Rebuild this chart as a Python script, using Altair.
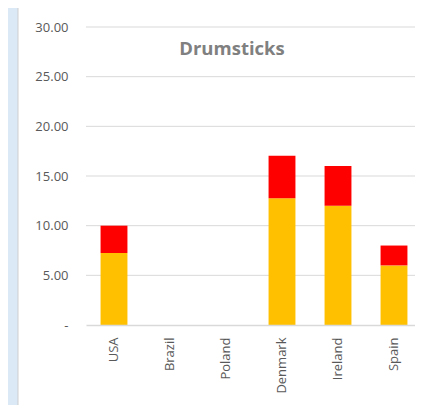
import altair as alt
import pandas as pd

countries = ["USA", "Brazil", "Poland", "Denmark", "Ireland", "Spain"]
series_names = ["Base", "Extra"]
base_values = [7.25, 0, 0, 12.75, 12.0, 6.0]
extra_values = [2.75, 0, 0, 4.3, 4.0, 2.0]
y_ticks = [0, 5, 10, 15, 20, 25, 30]
title_text = "Drumsticks"

rows = []
for i, c in enumerate(countries):
    rows.append({"country": c, "series": series_names[0], "value": base_values[i], "order": 0})
    rows.append({"country": c, "series": series_names[1], "value": extra_values[i], "order": 1})
df = pd.DataFrame(rows)

FONT = "Open Sans"
LABEL_COLOR = "#595959"
GRID_COLOR = "#d9d9d9"

y_axis = alt.Axis(title=None, values=y_ticks, grid=False, ticks=False, domain=False,
                  labelFont=FONT, labelFontSize=13, labelColor=LABEL_COLOR,
                  labelPadding=18, zindex=1,
                  labelExpr="datum.value == 0 ? '-\u00a0\u00a0\u00a0\u00a0\u00a0' : format(datum.value, '.2f')")
y_scale = alt.Scale(domain=[0, 30])

panel = alt.Chart(pd.DataFrame({"a": [0]})).mark_rect(
    fill="white", stroke="#cfcfcf", strokeWidth=1
).encode(
    x=alt.value(-68), x2=alt.value(420), y=alt.value(-20), y2=alt.value(400)
)

grid = alt.Chart(pd.DataFrame({"value": y_ticks[1:]})).mark_rule(
    color=GRID_COLOR, strokeWidth=1
).encode(
    y=alt.Y("value:Q", scale=y_scale, axis=y_axis),
    x=alt.value(0), x2=alt.value(336)
)

bars = alt.Chart(df).mark_bar().encode(
    x=alt.X("country:N", sort=countries,
            scale=alt.Scale(paddingInner=0.52, paddingOuter=0.26, range=[0, 336]),
            axis=alt.Axis(title=None, labelAngle=-90, labelFont=FONT, labelFontSize=13,
                          labelColor=LABEL_COLOR, ticks=False, labelPadding=12,
                          domainColor=GRID_COLOR, domainWidth=1.5, grid=False, zindex=1)),
    y=alt.Y("value:Q", stack="zero", scale=y_scale, axis=y_axis),
    color=alt.Color("series:N", sort=series_names,
                    scale=alt.Scale(domain=series_names, range=["#ffc000", "#ff0000"]),
                    legend=None),
    order=alt.Order("order:Q", sort="ascending"),
)

title = alt.Chart(pd.DataFrame({"t": [title_text]})).mark_text(
    font=FONT, fontSize=18.5, fontWeight="bold", color="#808080", baseline="middle", align="center"
).encode(text="t:N", x=alt.value(146), y=alt.value(22))

chart = alt.layer(panel, grid, bars, title).properties(
    width=329, height=298,
    background="#dbe8f5",
    padding={"left": 78, "top": 19, "right": 0, "bottom": 80},
    autosize=alt.AutoSizeParams(type="none"),
).configure_view(stroke=None)

chart.save("out.html", embed_options={"renderer": "svg", "actions": False})
